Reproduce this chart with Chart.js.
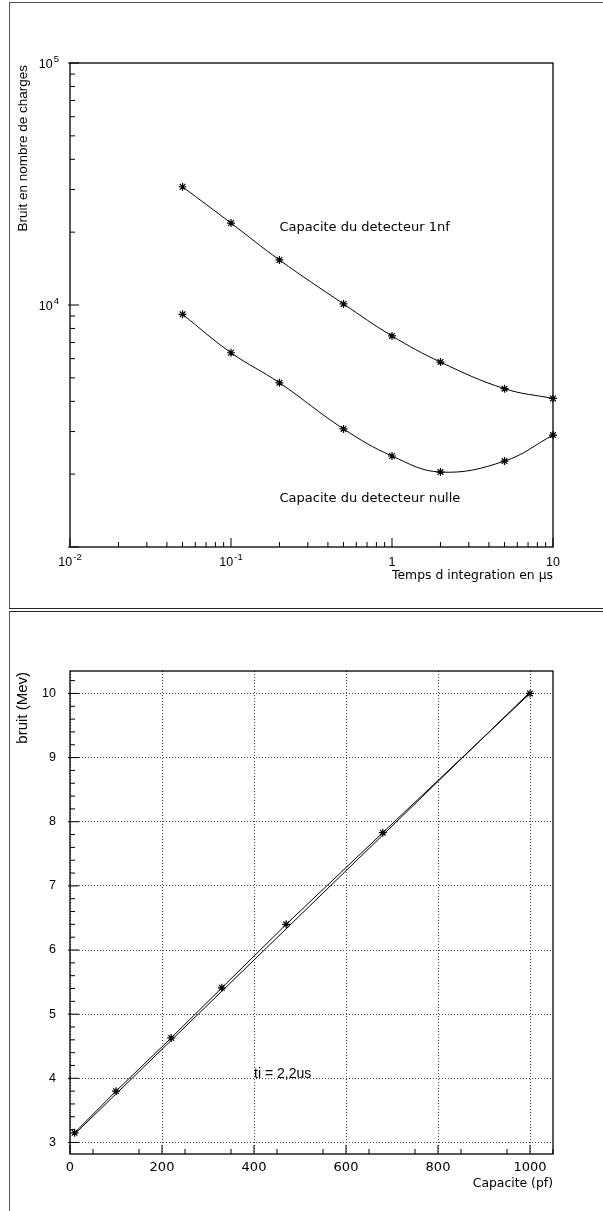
<!DOCTYPE html>
<html lang="fr">
<head>
<meta charset="UTF-8">
<title>Bruit en nombre de charges</title>
<script src="https://cdn.jsdelivr.net/npm/chart.js"></script>
<style>
  body { margin: 0; background: #fff; }
  #wrap { position: relative; width: 603px; height: 1211px; }
  canvas { position: absolute; left: 0; }
</style>
</head>
<body>
<div id="wrap">
  <canvas id="haut" width="603" height="610" style="top:0"></canvas>
  <canvas id="bas" width="603" height="601" style="top:610px"></canvas>
</div>
<script>
// panneau du haut : bruit vs temps d'integration (log-log)
const tempsUs = [0.05, 0.1, 0.2, 0.5, 1, 2, 5, 10];
const bruit1nf = [30800, 21800, 15350, 10100, 7450, 5810, 4510, 4110];
const bruitNul = [9150, 6350, 4770, 3075, 2377, 2040, 2265, 2900];
const xTicksHaut = [0.01, 0.1, 1, 10];
const xLabelsHaut = ['10^-2', '10^-1', '1', '10'];
const yTicksHaut = [1000, 10000, 100000];
const yLabelsHaut = ['', '10^4', '10^5'];

// panneau du bas : bruit vs capacite
const capacitePf = [10, 100, 220, 330, 470, 680, 1000];
const bruitMev = [3.15, 3.80, 4.63, 5.41, 6.40, 7.83, 10.0];
const fitPf = [10, 1000];
const fitMev = [3.13, 10.02];
const xTicksBas = [0, 200, 400, 600, 800, 1000];
const yTicksBas = [3, 4, 5, 6, 7, 8, 9, 10];

const HELV = '"Liberation Sans", "DejaVu Sans", sans-serif';
const GEO = '"DejaVu Sans", sans-serif';

// petites graduations log : 2..9 par decade
function minorLog(from, to) {
  const out = [];
  for (let d = from; d < to; d *= 10) {
    for (let k = 2; k <= 9; k++) out.push(k * d);
  }
  return out;
}
function steps(min, max, step) {
  const out = [];
  for (let v = min; v <= max + 1e-9; v += step) out.push(+v.toFixed(4));
  return out;
}

// "10^-2" -> 10 avec exposant
function drawPow(ctx, label, px, py, align) {
  const [base, exp] = label.split('^');
  const fb = '12.5px ' + HELV, fe = '9.5px ' + HELV;
  ctx.font = fb; const wb = ctx.measureText(base).width;
  ctx.font = fe; const we = exp ? ctx.measureText(exp).width + 1 : 0;
  const w = wb + we;
  let x0 = align === 'right' ? px - w : px - w / 2;
  ctx.textAlign = 'left';
  ctx.textBaseline = 'middle';
  ctx.font = fb; ctx.fillText(base, x0, py);
  if (exp) { ctx.font = fe; ctx.fillText(exp, x0 + wb + 1, py - 6); }
}

function decor(o) {
  return {
    id: 'decor',
    afterDraw(chart) {
      const { ctx, chartArea: a } = chart;
      const x = chart.scales.x, y = chart.scales.y;
      ctx.save();
      // cadre exterieur
      o.frame(ctx);
      // boite du graphe
      ctx.strokeStyle = '#000';
      ctx.lineWidth = 1.3;
      ctx.strokeRect(a.left, a.top, a.right - a.left, a.bottom - a.top);
      // graduations vers l'interieur
      ctx.lineWidth = 1;
      ctx.beginPath();
      o.xMajor.forEach(v => { const p = x.getPixelForValue(v); ctx.moveTo(p, a.bottom); ctx.lineTo(p, a.bottom - 9); });
      o.xMinor.forEach(v => { const p = x.getPixelForValue(v); ctx.moveTo(p, a.bottom); ctx.lineTo(p, a.bottom - 5); });
      o.yMajor.forEach(v => { const p = y.getPixelForValue(v); ctx.moveTo(a.left - 2, p); ctx.lineTo(a.left + 9, p); });
      o.yMinor.forEach(v => { const p = y.getPixelForValue(v); ctx.moveTo(a.left, p); ctx.lineTo(a.left + 5, p); });
      ctx.stroke();
      ctx.fillStyle = '#000';
      // etiquettes en puissances de 10
      if (o.powX) o.powX.ticks.forEach((v, i) => {
        if (o.powX.labels[i]) drawPow(ctx, o.powX.labels[i], x.getPixelForValue(v), a.bottom + 16, 'center');
      });
      if (o.powY) o.powY.ticks.forEach((v, i) => {
        if (o.powY.labels[i]) drawPow(ctx, o.powY.labels[i], a.left - 11, y.getPixelForValue(v) + 2, 'right');
      });
      // textes
      o.texts.forEach(t => {
        ctx.font = t.font;
        ctx.textAlign = t.align || 'left';
        ctx.textBaseline = 'middle';
        const px = t.data ? x.getPixelForValue(t.data[0]) : t.px[0];
        const py = t.data ? y.getPixelForValue(t.data[1]) : t.px[1];
        if (t.rot) {
          ctx.save();
          ctx.translate(px, py);
          ctx.rotate(-Math.PI / 2);
          ctx.fillText(t.text, 0, 0);
          ctx.restore();
        } else {
          ctx.fillText(t.text, px, py);
        }
      });
      ctx.restore();
    }
  };
}

function hline(ctx, x1, x2, yy, color) {
  ctx.strokeStyle = color; ctx.lineWidth = 1;
  ctx.beginPath(); ctx.moveTo(x1, yy); ctx.lineTo(x2, yy); ctx.stroke();
}
function vline(ctx, xx, y1, y2, color) {
  ctx.strokeStyle = color; ctx.lineWidth = 1;
  ctx.beginPath(); ctx.moveTo(xx, y1); ctx.lineTo(xx, y2); ctx.stroke();
}

const serie = (xs, ys, opts) => Object.assign({
  data: xs.map((v, i) => ({ x: v, y: ys[i] })),
  borderColor: '#000',
  borderWidth: 1,
  pointStyle: 'star',
  pointRadius: 4,
  pointBorderColor: '#000',
  pointBorderWidth: 1.2,
  fill: false,
  clip: false
}, opts);

new Chart(document.getElementById('haut'), {
  type: 'line',
  data: {
    datasets: [
      serie(tempsUs, bruit1nf, { tension: 0.4 }),
      serie(tempsUs, bruitNul, { tension: 0.4 })
    ]
  },
  options: {
    responsive: false,
    animation: false,
    layout: { padding: { top: 63, right: 50, left: 0, bottom: 0 } },
    plugins: { legend: { display: false }, tooltip: { enabled: false } },
    scales: {
      x: {
        type: 'logarithmic', min: 0.01, max: 10,
        afterBuildTicks: s => { s.ticks = xTicksHaut.map(v => ({ value: v })); },
        afterFit: s => { s.height = 63; },
        grid: { display: false, drawTicks: false },
        border: { display: false },
        ticks: { display: false }
      },
      y: {
        type: 'logarithmic', min: 1000, max: 100000,
        afterBuildTicks: s => { s.ticks = yTicksHaut.map(v => ({ value: v })); },
        afterFit: s => { s.width = 70; },
        grid: { display: false, drawTicks: false },
        border: { display: false },
        ticks: { display: false }
      }
    }
  },
  plugins: [decor({
    frame: ctx => {
      hline(ctx, 9, 603, 2.5, '#555');
      vline(ctx, 9.5, 2, 608, '#555');
      hline(ctx, 9, 603, 608.5, '#222');
    },
    xMajor: xTicksHaut, xMinor: minorLog(0.01, 10),
    yMajor: yTicksHaut, yMinor: minorLog(1000, 100000),
    powX: { ticks: xTicksHaut, labels: xLabelsHaut },
    powY: { ticks: yTicksHaut, labels: yLabelsHaut },
    texts: [
      { text: 'Bruit en nombre de charges', px: [23, 65], rot: true, align: 'right', font: '13.5px ' + HELV },
      { text: 'Temps d integration en µs', px: [553, 576], align: 'right', font: '12.4px ' + GEO },
      { text: 'Capacite du detecteur 1nf', data: [0.2, 20800], font: '13px ' + GEO },
      { text: 'Capacite du detecteur nulle', data: [0.2, 1580], font: '13px ' + GEO }
    ]
  })]
});

new Chart(document.getElementById('bas'), {
  type: 'line',
  data: {
    datasets: [
      serie(capacitePf, bruitMev, { tension: 0 }),
      serie(fitPf, fitMev, { tension: 0, pointRadius: 0 })
    ]
  },
  options: {
    responsive: false,
    animation: false,
    layout: { padding: { top: 61, right: 50, left: 0, bottom: 0 } },
    plugins: { legend: { display: false }, tooltip: { enabled: false } },
    scales: {
      x: {
        type: 'linear', min: 0, max: 1050,
        afterBuildTicks: s => { s.ticks = xTicksBas.map(v => ({ value: v })); },
        afterFit: s => { s.height = 57; },
        grid: { color: '#444', lineWidth: 1, drawTicks: false },
        border: { display: false, dash: [1, 2] },
        ticks: { autoSkip: false, maxRotation: 0, padding: 6, color: '#000',
                 font: { family: GEO, size: 13 }, callback: v => String(v) }
      },
      y: {
        type: 'linear', min: 2.82, max: 10.35,
        afterBuildTicks: s => { s.ticks = yTicksBas.map(v => ({ value: v })); },
        afterFit: s => { s.width = 70; },
        grid: { color: '#444', lineWidth: 1, drawTicks: false },
        border: { display: false, dash: [1, 2] },
        ticks: { autoSkip: false, padding: 14, color: '#000',
                 font: { family: HELV, size: 12.5 }, callback: v => String(v) }
      }
    }
  },
  plugins: [decor({
    frame: ctx => {
      hline(ctx, 9, 603, 1.5, '#222');
      vline(ctx, 9.5, 1, 601, '#555');
    },
    xMajor: xTicksBas, xMinor: steps(50, 1050, 100),
    yMajor: yTicksBas, yMinor: steps(3.2, 10.2, 0.2).filter(v => Math.abs(v - Math.round(v)) > 0.01),
    texts: [
      { text: 'bruit (Mev)', px: [23, 62], rot: true, align: 'right', font: '15px ' + HELV },
      { text: 'Capacite (pf)', px: [553, 574], align: 'right', font: '12.4px ' + GEO },
      { text: 'ti = 2,2us', data: [400, 4.06], font: '14px ' + HELV }
    ]
  })]
});
</script>
</body>
</html>
